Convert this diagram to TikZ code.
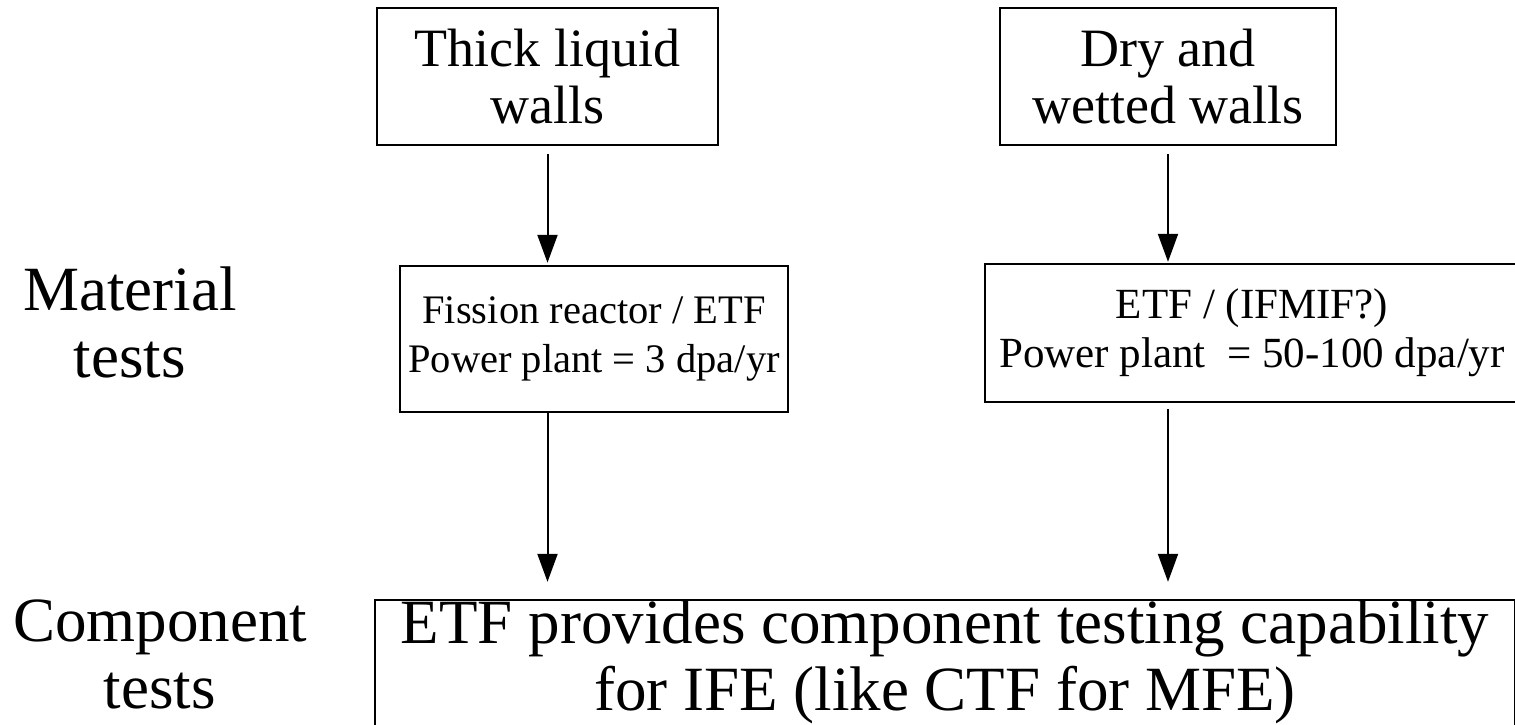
\documentclass[tikz,border=0pt]{standalone}
\usepackage{fontspec}
\setmainfont{Liberation Serif}
\usetikzlibrary{arrows.meta}
\begin{document}
\begin{tikzpicture}[x=1pt,y=-1pt,
  frame/.style={draw, line width=2.4pt, inner sep=0pt, align=center},
  big/.style={font=\fontsize{63}{67}\selectfont, align=center},
  mid/.style={font=\fontsize{54}{57}\selectfont},
  small/.style={font=\fontsize{40.5}{49}\selectfont},
  smallwide/.style={font=\fontsize{43}{49}\selectfont},
  flow/.style={line width=2pt, -{Triangle[length=28pt,width=20pt]}}]
\useasboundingbox (0,0) rectangle (1515,724);
\clip (0,0) rectangle (1515,724);

% wall concepts
\node[frame, mid, minimum width=341pt, minimum height=137pt] (thick) at (547.5,76.5) {Thick liquid\\walls};
\node[frame, mid, minimum width=336pt, minimum height=137pt] (dry) at (1168,76.5) {Dry and\\wetted walls};

% material test facilities
\node[frame, small, minimum width=388pt, minimum height=146pt] (fission) at (594,339) {Fission reactor / ETF\\ Power plant = 3 dpa/yr};
\node[frame, smallwide, minimum width=534pt, minimum height=138pt] (etf) at (1252,333) {ETF / (IFMIF?)\\Power plant \ = 50-100 dpa/yr};

% component testing
\node[frame, minimum width=1140pt, minimum height=200pt] (comp) at (945,700) {};
\node[big, inner sep=0pt] (comptext) at (945,662) {ETF provides component testing capability\\for IFE (like CTF for MFE)};

% row labels
\node[big] (matlabel) at (130,322) {Material\\tests};
\node[big, inner sep=0pt] (complabel) at (160,654) {Component\\tests};

% connectors
\draw[flow, shorten <=8pt, shorten >=2pt] (thick.south) -- (thick.south |- fission.north);
\draw[flow, shorten <=8pt, shorten >=1pt] (dry.south) -- (dry.south |- etf.north);
\draw[flow, shorten >=17pt] (fission.south -| thick.south) -- (thick.south |- comp.north);
\draw[flow, shorten <=6pt, shorten >=17pt] (etf.south -| dry.south) -- (dry.south |- comp.north);
\end{tikzpicture}
\end{document}
